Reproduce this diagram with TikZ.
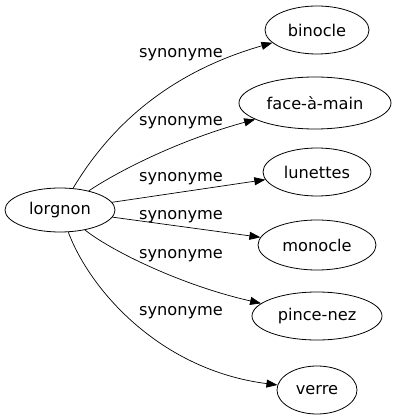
\documentclass[tikz,border=0pt]{standalone}
\usepackage{fontspec}
\setmainfont{DejaVu Sans}
\usetikzlibrary{arrows.meta,shapes.geometric}
\begin{document}
\begin{tikzpicture}[x=1pt,y=-1pt,
  word/.style={draw,ellipse,inner sep=0pt,line width=0.8pt,font=\fontsize{16.2}{19}\selectfont},
  lbl/.style={inner sep=0pt,font=\fontsize{16.2}{19}\selectfont},
  syn/.style={line width=0.7pt,-{Triangle[length=11pt,width=8pt]}}]
\useasboundingbox (0,0) rectangle (401,419);
\node[word,minimum width=110pt,minimum height=44pt] (lorgnon) at (60,210) {lorgnon};
\node[word,minimum width=104pt,minimum height=48pt] (binocle) at (317,30) {binocle};
\node[word,minimum width=152pt,minimum height=52pt] (face) at (315,103) {face-à-main};
\node[word,minimum width=108pt,minimum height=48pt] (lunettes) at (317,172) {lunettes};
\node[word,minimum width=118pt,minimum height=50pt] (monocle) at (317,245) {monocle};
\node[word,minimum width=130pt,minimum height=48pt] (pince) at (317,316) {pince-nez};
\node[word,minimum width=80pt,minimum height=48pt] (verre) at (317,390) {verre};
\coordinate (c1a) at (105,135); \coordinate (c1b) at (160,75);
\coordinate (c2a) at (120,170); \coordinate (c2b) at (180,140);
\coordinate (c5a) at (110,250); \coordinate (c5b) at (180,285);
\coordinate (c6a) at (90,290); \coordinate (c6b) at (160,370);
\draw[syn] (lorgnon) .. controls (c1a) and (c1b) .. (binocle);
\draw[syn] (lorgnon) .. controls (c2a) and (c2b) .. (face);
\draw[syn] (lorgnon) -- (lunettes);
\draw[syn] (lorgnon) -- (monocle);
\draw[syn] (lorgnon) .. controls (c5a) and (c5b) .. (pince);
\draw[syn] (lorgnon) .. controls (c6a) and (c6b) .. (verre);
\node[lbl] (l1) at (181,54.5) {synonyme};
\node[lbl] (l2) at (181,123) {synonyme};
\node[lbl] (l3) at (181,179) {synonyme};
\node[lbl] (l4) at (181,217) {synonyme};
\node[lbl] (l5) at (181,256) {synonyme};
\node[lbl] (l6) at (181,312.5) {synonyme};
\end{tikzpicture}
\end{document}
